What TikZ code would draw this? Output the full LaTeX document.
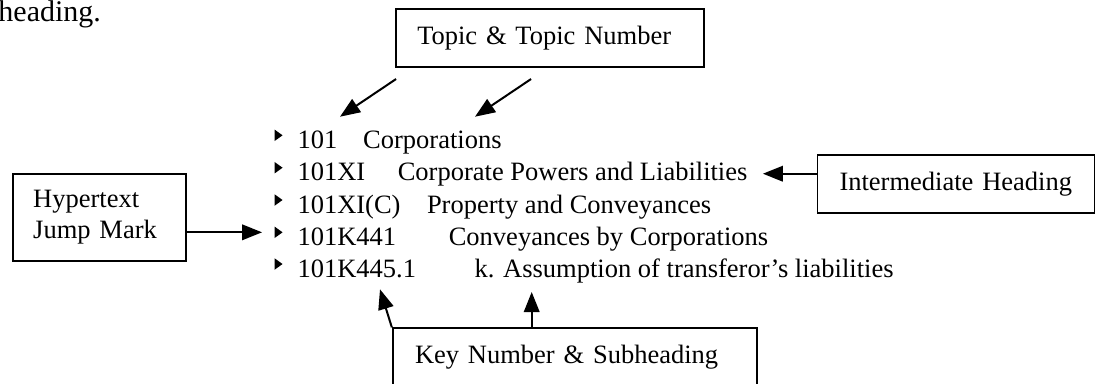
\documentclass[tikz,border=0pt]{standalone}
\usepackage{fontspec}
\setmainfont{Liberation Serif}
\usetikzlibrary{arrows.meta, shapes.geometric}

\begin{document}
\begin{tikzpicture}[x=0.4pt, y=-0.4pt,
  box/.style={draw, line width=0.75pt, inner ysep=0pt, align=left, font=\fontsize{10.6}{12.3}\selectfont},
  lbl/.style={anchor=base west, inner sep=0pt, font=\fontsize{10.6}{12.3}\selectfont},
  bul/.style={isosceles triangle, isosceles triangle stretches, fill, inner sep=0pt, minimum width=4.6pt, minimum height=3.2pt},
  arr/.style={line width=0.8pt, -{Triangle[length=8pt, width=6.2pt]}}]
\useasboundingbox (0,0) rectangle (1097,383);
\clip (0,0) rectangle (1097,383);
\node (head) at (-2,21.7) [anchor=base west, inner sep=0pt, font=\fontsize{12}{14}\selectfont] {heading.};
\node (b1) at (277.5,135.3) [bul] {};
\node (n1) at (297,148.3) [lbl] {101};
\node (t1) at (362.7,148.3) [lbl] {Corporations};
\node (b2) at (277.5,167.7) [bul] {};
\node (n2) at (297,180.7) [lbl] {101XI};
\node (t2) at (397.3,180.7) [lbl] {Corporate Powers and Liabilities};
\node (b3) at (277.5,200) [bul] {};
\node (n3) at (297,213) [lbl] {101XI(C)};
\node (t3) at (426.5,213) [lbl] {Property and Conveyances};
\node (b4) at (277.5,232.3) [bul] {};
\node (n4) at (297,245.3) [lbl] {101K441};
\node (t4) at (448.3,245.3) [lbl] {Conveyances by Corporations};
\node (b5) at (277.5,264) [bul] {};
\node (n5) at (297,277) [lbl] {101K445.1};
\node (t5) at (474,277) [lbl] {k. Assumption of transferor’s liabilities};
\node (topic) at (550,38.2) [box, minimum height=23.1pt, inner xsep=8.5pt, text width=106.2pt] {Topic \& Topic Number};
\node (inter) at (956,184) [box, minimum height=23.2pt, inner xsep=8.8pt, text width=93.2pt] {Intermediate Heading};
\node (hyper) at (99.2,217.3) [box, minimum height=34.7pt, inner xsep=8.2pt, text width=52.8pt] {Hypertext\\Jump Mark};
\node (key) at (575,357) [box, minimum height=23pt, inner xsep=8.9pt, text width=128pt] {Key Number \& Subheading};
\draw[arr] ([shift={(1,11)}]topic.south west) -- ([shift={(43,-31.6)}]n1.base west);
\draw[arr] ([shift={(136,11)}]topic.south west) -- ([shift={(112.3,-31.6)}]t1.base west);
\coordinate (iTip) at ([shift={(15,-7)}]t2.base east);
\draw[arr] (iTip -| inter.west) -- (iTip);
\coordinate (hTip) at ([shift={(-12,0)}]b4.west);
\draw[arr] (hTip -| hyper.east) -- (hTip);
\draw[arr] (key.north west) -- ([shift={(83,12.3)}]n5.base west);
\coordinate (kTip) at ([shift={(57.7,15)}]t5.base west);
\draw[arr] (kTip |- key.north) -- (kTip);
\end{tikzpicture}
\end{document}
